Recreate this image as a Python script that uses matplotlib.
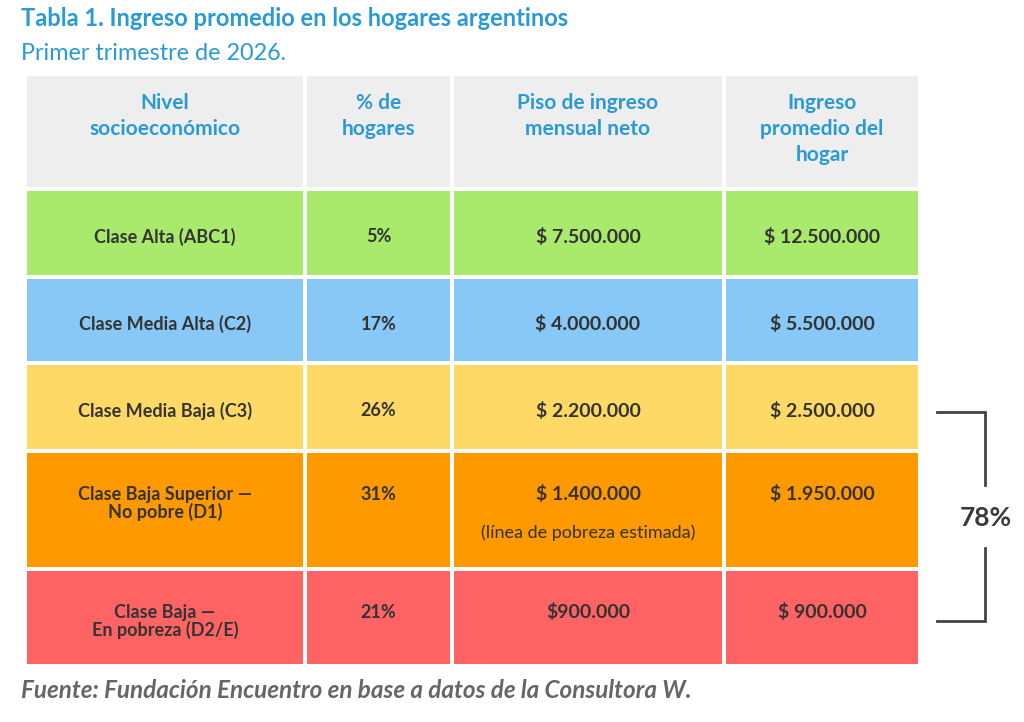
import matplotlib.pyplot as plt
from matplotlib.patches import Rectangle

plt.rcParams['font.family'] = ['Lato', 'DejaVu Sans']

# Datos de la tabla
encabezados = ['Nivel\nsocioeconómico', '% de\nhogares', 'Piso de ingreso\nmensual neto', 'Ingreso\npromedio del\nhogar']
niveles = ['Clase Alta (ABC1)', 'Clase Media Alta (C2)', 'Clase Media Baja (C3)',
           'Clase Baja Superior —\nNo pobre (D1)', 'Clase Baja —\nEn pobreza (D2/E)']
porcentajes = ['5%', '17%', '26%', '31%', '21%']
piso_ingreso = ['$ 7.500.000', '$ 4.000.000', '$ 2.200.000', '$ 1.400.000', '$900.000']
ingreso_promedio = ['$ 12.500.000', '$ 5.500.000', '$ 2.500.000', '$ 1.950.000', '$ 900.000']
notas_piso = ['', '', '', '(línea de pobreza estimada)', '']
colores_filas = ['#A9EA6C', '#88C8F6', '#FFD966', '#FF9900', '#FF6363']
total_bajas = '78%'

azul = '#2A9AD4'
texto = '#333333'

# Layout en pixeles
col_x = [25, 305, 452, 724, 920]
row_y = [76, 189, 277, 363, 451, 569, 666]
gap = 2

fig = plt.figure(figsize=(10.24, 7.22), dpi=100)
ax = fig.add_axes([0, 0, 1, 1])
ax.set_xlim(0, 1024)
ax.set_ylim(722, 0)
ax.axis('off')

ax.text(21, 18, 'Tabla 1. Ingreso promedio en los hogares argentinos', color=azul,
        fontsize=17, fontweight='bold', va='center', ha='left')
ax.text(21, 53, 'Primer trimestre de 2026.', color=azul, fontsize=16.8, va='center', ha='left')

cx = [(col_x[j] + col_x[j + 1]) / 2 for j in range(4)]

# Encabezado
for j, h in enumerate(encabezados):
    x0, x1 = col_x[j] + gap, col_x[j + 1] - gap
    y0, y1 = row_y[0], row_y[1] - gap
    ax.add_patch(Rectangle((x0, y0), x1 - x0, y1 - y0, color='#EEEEEE', lw=0))
    for k, linea in enumerate(h.split('\n')):
        ax.text(cx[j], 103 + 26 * k, linea, color=azul, fontsize=15, fontweight='bold',
                ha='center', va='center')

# Filas
for i in range(len(niveles)):
    y0, y1 = row_y[i + 1] + gap, row_y[i + 2] - gap
    for j in range(4):
        x0, x1 = col_x[j] + gap, col_x[j + 1] - gap
        ax.add_patch(Rectangle((x0, y0), x1 - x0, y1 - y0, color=colores_filas[i], lw=0))
    if '\n' in niveles[i]:
        top = y0 + 41.5
        for k, linea in enumerate(niveles[i].split('\n')):
            ax.text(cx[0], top + 17 * k, linea, color=texto, fontsize=13, fontweight='bold',
                    ha='center', va='center')
    else:
        top = (y0 + y1) / 2 + 4
        ax.text(cx[0], top, niveles[i], color=texto, fontsize=13, fontweight='bold', ha='center', va='center')
    ax.text(cx[1], top, porcentajes[i], color=texto, fontsize=13, fontweight='bold', ha='center', va='center')
    ax.text(cx[2], top, piso_ingreso[i], color=texto, fontsize=14, fontweight='bold', ha='center', va='center')
    ax.text(cx[3], top, ingreso_promedio[i], color=texto, fontsize=14, fontweight='bold', ha='center', va='center')
    if notas_piso[i]:
        ax.text(cx[2], top + 38, notas_piso[i], color=texto, fontsize=13, ha='center', va='center')

# Corchete de las tres clases bajas
ax.plot([937, 985, 985], [412, 412, 485], color='#444444', lw=2, solid_joinstyle='miter')
ax.plot([985, 985, 937], [548, 621, 621], color='#444444', lw=2, solid_joinstyle='miter')
ax.text(986, 518, total_bajas, color='#3a3a3a', fontsize=19, fontweight='bold', ha='center', va='center')

ax.text(21, 690, 'Fuente: Fundación Encuentro en base a datos de la Consultora W.', color='#666666',
        fontsize=17.5, fontweight='bold', style='italic', ha='left', va='center')

fig.savefig('out.png', dpi=100)
